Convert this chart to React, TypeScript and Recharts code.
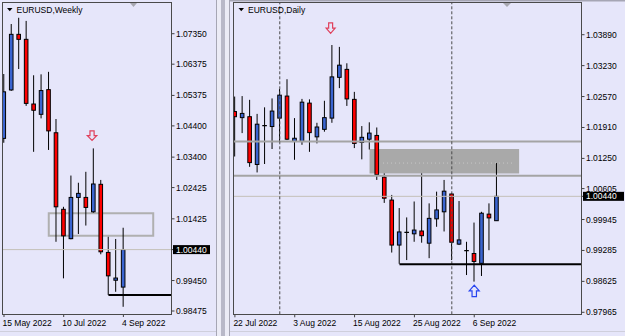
import { ComposedChart, Bar, XAxis, YAxis, ReferenceLine, ReferenceArea, ReferenceDot } from 'recharts';

const FONT = '"Liberation Sans", Arial, sans-serif';
const FS = 8.5;
const BG = '#e6e6fa';
const BULL = '#3a64d0';
const BEAR = '#ff0000';
const LAST = 1.0044;
const LEVEL = 0.9899;

// weekly candles
const weekDates = [
  '15 May 2022', '22 May 2022', '29 May 2022', '5 Jun 2022', '12 Jun 2022', '19 Jun 2022',
  '26 Jun 2022', '3 Jul 2022', '10 Jul 2022', '17 Jul 2022', '24 Jul 2022', '31 Jul 2022',
  '7 Aug 2022', '14 Aug 2022', '21 Aug 2022', '28 Aug 2022', '4 Sep 2022',
];
const weekOpen = [1.0400, 1.0555, 1.0733, 1.0717, 1.0510, 1.0477, 1.0556, 1.0418, 1.0173, 1.0079, 1.0211, 1.0211, 1.0165, 1.0253, 1.0035, 0.9946, 0.9924];
const weekHigh = [1.0606, 1.0766, 1.0786, 1.0776, 1.0602, 1.0605, 1.0613, 1.0462, 1.0181, 1.0281, 1.0258, 1.0293, 1.0368, 1.0267, 1.0085, 1.0078, 1.0114];
const weekLow = [1.0386, 1.0552, 1.0622, 1.0504, 1.0357, 1.0464, 1.0363, 1.0069, 0.9952, 1.0077, 1.0094, 1.0121, 1.0162, 1.0029, 0.9899, 0.9909, 0.9861];
const weekClose = [1.0549, 1.0733, 1.0717, 1.0512, 1.0490, 1.0553, 1.0424, 1.0181, 1.0088, 1.0211, 1.0224, 1.0179, 1.0254, 1.0037, 0.9960, 0.9953, 1.0044];
const weekTickIdx = [0, 8, 16];
const weekPriceTicks = [1.0735, 1.06375, 1.05375, 1.044, 1.034, 1.02425, 1.01425, 0.9945, 0.98475];
const weekZone = [1.0088, 1.016];
const weekZoneIdx = [6, 20];
const weekArrow = { i: 11.8, price: 1.0409 };

// daily candles
const dayDates = [
  '22 Jul 2022', '25 Jul 2022', '26 Jul 2022', '27 Jul 2022', '28 Jul 2022', '29 Jul 2022',
  '1 Aug 2022', '2 Aug 2022', '3 Aug 2022', '4 Aug 2022', '5 Aug 2022', '8 Aug 2022',
  '9 Aug 2022', '10 Aug 2022', '11 Aug 2022', '12 Aug 2022', '15 Aug 2022', '16 Aug 2022',
  '17 Aug 2022', '18 Aug 2022', '19 Aug 2022', '22 Aug 2022', '23 Aug 2022', '24 Aug 2022',
  '25 Aug 2022', '26 Aug 2022', '29 Aug 2022', '30 Aug 2022', '31 Aug 2022', '1 Sep 2022',
  '2 Sep 2022', '5 Sep 2022', '6 Sep 2022', '7 Sep 2022', '8 Sep 2022', '9 Sep 2022',
];
const dayOpen = [1.0225, 1.0212, 1.0214, 1.0112, 1.0195, 1.0193, 1.0211, 1.0258, 1.0161, 1.0161, 1.0243, 1.0171, 1.0187, 1.0211, 1.0298, 1.0315, 1.0251, 1.0159, 1.0166, 1.0174, 1.0085, 1.0036, 0.9940, 0.9967, 0.9964, 0.9970, 0.9944, 0.9996, 1.0011, 1.0049, 0.9942, 0.9928, 0.9922, 0.9901, 1.0006, 0.9992];
const dayHigh = [1.0257, 1.0258, 1.0250, 1.0220, 1.0234, 1.0253, 1.0273, 1.0294, 1.0211, 1.0252, 1.0251, 1.0201, 1.0248, 1.0367, 1.0363, 1.0328, 1.0267, 1.0194, 1.0202, 1.0191, 1.0093, 1.0047, 1.0019, 0.9999, 1.0033, 1.0093, 1.0029, 1.0054, 1.0079, 1.0051, 1.0034, 0.9947, 0.9988, 1.0011, 1.0029, 1.0115];
const dayLow = [1.0129, 1.0179, 1.0107, 1.0095, 1.0113, 1.0145, 1.0161, 1.0164, 1.0122, 1.0154, 1.0139, 1.0157, 1.0182, 1.0201, 1.0275, 1.0237, 1.0147, 1.0123, 1.0144, 1.0079, 1.0030, 0.9924, 0.9900, 0.9908, 0.9947, 0.9945, 0.9912, 0.9979, 0.9969, 0.9908, 0.9940, 0.9876, 0.9862, 0.9874, 0.9929, 0.9992];
const dayClose = [1.0214, 1.0221, 1.0116, 1.0198, 1.0195, 1.0226, 1.0260, 1.0166, 1.0168, 1.0245, 1.0180, 1.0192, 1.0212, 1.0299, 1.0324, 1.0252, 1.0157, 1.0170, 1.0179, 1.0090, 1.0040, 0.9940, 0.9968, 0.9967, 0.9972, 0.9960, 0.9997, 1.0015, 1.0055, 0.9946, 0.9951, 0.9928, 0.9905, 1.0008, 0.9998, 1.0044];
const dayTickIdx = [0, 8, 16, 24, 32];
const dayPriceTicks = [1.0389, 1.0323, 1.0257, 1.0191, 1.0125, 1.00605, 0.99945, 0.99285, 0.98625, 0.97965];
const dayZone = [1.0093, 1.0145];
const dayZoneIdx = [18, 38];
const dayZoneMid = 1.0115;
const dayBand = [1.0088, 1.0161];
const daySeparators = [6, 29];
const dayArrowDown = { i: 12.8, price: 1.0403 };
const dayArrowUp = { i: 32, price: 0.9842 };

const rows = (dates: string[], o: number[], h: number[], l: number[], c: number[]) =>
  dates.map((date, i) => ({ i, date, open: o[i], high: h[i], low: l[i], close: c[i] }));

const weekRows = rows(weekDates, weekOpen, weekHigh, weekLow, weekClose);
const dayRows = rows(dayDates, dayOpen, dayHigh, dayLow, dayClose);

function Candle(props: any) {
  const { x, y, width, height, payload } = props;
  if (height == null || isNaN(y)) return null;
  const { open, close, high, low } = payload;
  const cx = x + width / 2;
  const k = height / (high - low);
  const py = (v: number) => y + (high - v) * k;
  const top = py(Math.max(open, close));
  const bot = py(Math.min(open, close));
  return (
    <g>
      <line x1={cx} x2={cx} y1={y} y2={y + height} stroke="#000" strokeWidth={1} />
      {open === close ? (
        <line x1={cx - 2.3} x2={cx + 2.3} y1={top} y2={top} stroke="#000" strokeWidth={1.3} />
      ) : (
        <rect x={cx - 1.8} y={top} width={3.6} height={Math.max(bot - top, 1)}
          fill={close > open ? BULL : BEAR} stroke="#000" strokeWidth={1} />
      )}
    </g>
  );
}

function PriceTick(props: any) {
  const { x, y, payload, boxW } = props;
  const v = payload.value as number;
  const label = v.toFixed(5);
  if (Math.abs(v - LAST) < 1e-9) {
    return (
      <g>
        <rect x={x - 3} y={y - 4.5} width={boxW} height={9} fill="#000" />
        <text x={x} y={y} dy="0.355em" fill="#fff" fontSize={FS} fontFamily={FONT}>{label}</text>
      </g>
    );
  }
  return <text x={x} y={y} dy="0.355em" fill="#000" fontSize={FS} fontFamily={FONT}>{label}</text>;
}

function DateTick(props: any) {
  const { x, y, payload, labels } = props;
  return (
    <text x={x - 1.5} y={y} dy="0.8em" textAnchor="start" fill="#000" fontSize={FS} fontFamily={FONT}>
      {labels[payload.value]}
    </text>
  );
}

function Arrow(props: any) {
  const { cx, cy, color, up, w, h } = props;
  const hw = w / 2, sw = w * 0.22;
  const d = up
    ? `M${cx - sw},${cy + h / 2} H${cx + sw} V${cy} H${cx + hw} L${cx},${cy - h / 2} L${cx - hw},${cy} H${cx - sw} Z`
    : `M${cx - sw},${cy - h / 2} H${cx + sw} V${cy} H${cx + hw} L${cx},${cy + h / 2} L${cx - hw},${cy} H${cx - sw} Z`;
  return <path d={d} fill="none" stroke={color} strokeWidth={1.2} strokeLinejoin="miter" />;
}

const axisStyle = { stroke: '#404040' };

function WeeklyChart() {
  const xDom: [number, number] = [-0.134, 22.45];
  return (
    <ComposedChart width={222} height={336} data={weekRows} margin={{ top: 3, right: 0, bottom: 0, left: 3 }}>
      <XAxis dataKey="i" type="number" domain={xDom} allowDataOverflow ticks={weekTickIdx} interval={0}
        tick={<DateTick labels={weekDates} />} tickSize={3} tickMargin={2} tickLine={axisStyle} axisLine={false} height={22} />
      <YAxis orientation="right" type="number" domain={[0.98379, 1.08333]} allowDataOverflow
        ticks={[...weekPriceTicks, LAST]} interval={0} tick={<PriceTick boxW={37} />}
        tickSize={3} tickMargin={1.5} tickLine={axisStyle} axisLine={false} width={50.5} />
      <ReferenceLine y={LAST} stroke="#c4c0b8" strokeWidth={1} />
      <ReferenceArea x1={weekZoneIdx[0]} x2={weekZoneIdx[1]} y1={weekZone[0]} y2={weekZone[1]}
        fill="none" fillOpacity={0} stroke="#b0b0b0" strokeWidth={2} />
      <ReferenceLine segment={[{ x: 14, y: LEVEL }, { x: xDom[1], y: LEVEL }]} stroke="#000" strokeWidth={2} />
      <Bar dataKey={(d: any) => [d.low, d.high]} barSize={5} shape={(p: any) => <Candle {...p} />} isAnimationActive={false} />
      <ReferenceDot x={weekArrow.i} y={weekArrow.price} r={5}
        shape={(p: any) => <Arrow cx={p.cx} cy={p.cy} color="#e0405c" w={9.4} h={9.5} />} />
    </ComposedChart>
  );
}

function DailyChart() {
  const xDom: [number, number] = [-0.187, 46.34];
  return (
    <ComposedChart width={399} height={336} data={dayRows} margin={{ top: 3, right: 0, bottom: 0, left: 7.5 }}>
      <XAxis dataKey="i" type="number" domain={xDom} allowDataOverflow ticks={dayTickIdx} interval={0}
        tick={<DateTick labels={dayDates} />} tickSize={3} tickMargin={2} tickLine={axisStyle} axisLine={false} height={21.7} />
      <YAxis orientation="right" type="number" domain={[0.97922, 1.04567]} allowDataOverflow
        ticks={[...dayPriceTicks, LAST]} interval={0} tick={<PriceTick boxW={41} />}
        tickSize={3} tickMargin={1.5} tickLine={axisStyle} axisLine={false} width={43.5} />
      <ReferenceArea x1={dayZoneIdx[0]} x2={dayZoneIdx[1]} y1={dayZone[0]} y2={dayZone[1]}
        fill="#a9a9a9" fillOpacity={1} stroke="none" />
      <ReferenceLine segment={[{ x: 19.8, y: dayZoneMid }, { x: 37.2, y: dayZoneMid }]}
        stroke="#c8c8c8" strokeDasharray="1 3" />
      <ReferenceLine y={dayBand[1]} stroke="#a4a4a4" strokeWidth={2} />
      <ReferenceLine y={dayBand[0]} stroke="#a4a4a4" strokeWidth={2} />
      <ReferenceLine y={LAST} stroke="#c4c0b8" strokeWidth={1} />
      {daySeparators.map((s) => (
        <ReferenceLine key={s} x={s} stroke="#4a4a4a" strokeDasharray="3 2" />
      ))}
      <ReferenceLine segment={[{ x: 22, y: LEVEL }, { x: xDom[1], y: LEVEL }]} stroke="#000" strokeWidth={2} />
      <Bar dataKey={(d: any) => [d.low, d.high]} barSize={5} shape={(p: any) => <Candle {...p} />} isAnimationActive={false} />
      <ReferenceDot x={dayArrowDown.i} y={dayArrowDown.price} r={5}
        shape={(p: any) => <Arrow cx={p.cx} cy={p.cy} color="#e0405c" w={9} h={10.5} />} />
      <ReferenceDot x={dayArrowUp.i} y={dayArrowUp.price} r={5}
        shape={(p: any) => <Arrow cx={p.cx} cy={p.cy} color="#2845f0" up w={10} h={11.5} />} />
    </ComposedChart>
  );
}

export default function App() {
  return (
    <div style={{ position: 'absolute', left: 0, top: 0, width: 625, height: 336, background: BG, overflow: 'hidden', fontFamily: FONT }}>
      {/* window frames */}
      <svg width={625} height={336} style={{ position: 'absolute', left: 0, top: 0 }}>
        <rect x={216} y={0} width={1} height={336} fill="#a6a6b4" />
        <rect x={217} y={0} width={4} height={336} fill="#ececf6" />
        <rect x={221} y={0} width={4} height={336} fill="#b9b9c8" />
        <rect x={225} y={0} width={4} height={336} fill="#ececf6" />
        <rect x={229} y={0} width={1} height={336} fill="#a6a6b4" />
        <rect x={229} y={0} width={396} height={1.5} fill="#a6a6b4" />
        <rect x={0} y={331} width={216} height={1} fill="#cfcfdc" />
        <rect x={230} y={331} width={395} height={1} fill="#cfcfdc" />
      </svg>
      <div style={{ position: 'absolute', left: 0, top: 0 }}>
        <WeeklyChart />
      </div>
      <div style={{ position: 'absolute', left: 226, top: 0 }}>
        <DailyChart />
      </div>
      {/* plot borders, titles and shift markers */}
      <svg width={625} height={336} style={{ position: 'absolute', left: 0, top: 0, pointerEvents: 'none' }}>
        <rect x={2.5} y={2.5} width={169} height={312} fill="none" stroke="#4a4a4a" strokeWidth={1} />
        <rect x={233.5} y={2.5} width={348} height={312} fill="none" stroke="#4a4a4a" strokeWidth={1} />
        <polygon points="7,8 12.5,8 9.75,11.2" fill="#000" />
        <text x={16.5} y={13.3} fontSize={FS} fontFamily={FONT} fill="#000">EURUSD,Weekly</text>
        <polygon points="238.5,8 244,8 241.25,11.2" fill="#000" />
        <text x={248} y={13.3} fontSize={FS} fontFamily={FONT} fill="#000">EURUSD,Daily</text>
        <polygon points="130,3 137,3 133.5,7" fill="#a8a8b0" />
        <polygon points="503,3 511,3 507,7" fill="#a8a8b0" />
      </svg>
    </div>
  );
}
